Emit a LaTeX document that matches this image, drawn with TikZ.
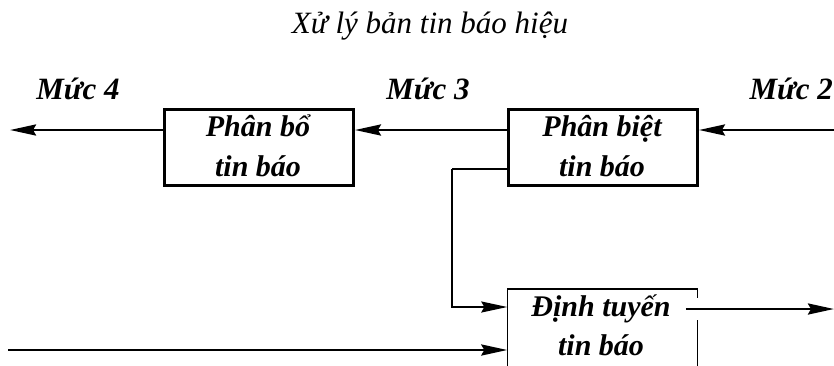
\documentclass[tikz,border=0pt]{standalone}
\usepackage{fontspec}
\setmainfont{Liberation Serif}
\usetikzlibrary{arrows.meta}

\begin{document}
\begin{tikzpicture}[x=1pt,y=-1pt,
  lbl/.style={font=\fontsize{31}{36}\selectfont\bfseries\itshape, inner sep=0pt, anchor=base},
  ttl/.style={font=\fontsize{31}{36}\selectfont\itshape, inner sep=0pt, anchor=base},
  blk/.style={draw, line width=2.8pt, minimum width=189pt, minimum height=76pt, inner sep=0pt},
  blktxt/.style={font=\fontsize{30}{36}\selectfont\bfseries\itshape, inner sep=0pt, anchor=base},
  tip/.style={-{Stealth[length=26pt,width=11pt,inset=3pt]}},
  flow/.style={line width=2.8pt, tip},
  branch/.style={line width=1.8pt, tip},
  frame/.style={line width=1.5pt},
]
\useasboundingbox (0,0) rectangle (834,365);

% heading
\node[ttl] (title) at (430,33) {Xử lý bản tin báo hiệu};

% level labels
\node[lbl] (m4) at (78,99) {Mức 4};
\node[lbl] (m3) at (428,99) {Mức 3};
\node[lbl, anchor=base east] (m2) at (833,99) {Mức 2};

% processing blocks
\node[blk] (b1) at (259,147.5) {};
\node[blktxt] (b1a) at (258,136) {Phân bổ};
\node[blktxt] (b1b) at (258,176) {tin báo};

\node[blk] (b2) at (603,147.5) {};
\node[blktxt] (b2a) at (602,136) {Phân biệt};
\node[blktxt] (b2b) at (602,176) {tin báo};

% routing block (open at the bottom edge)
\node[minimum width=190pt, minimum height=82pt, inner sep=0pt] (b3) at (602.5,330) {};
\node[blktxt, inner xsep=15pt] (dt) at (601,316) {Định tuyến};
\node[blktxt] (tb) at (601,355) {tin báo};
\draw[frame] (b3.south west) -- (b3.north west) -- (b3.north east) -- ++(0,9);
\draw[frame] (b3.south east) -- ++(0,-51);

% free ends
\coordinate (o4) at (10,130);
\coordinate (in2) at (834,130);
\coordinate (in0) at (8,350);
\coordinate (o3) at (834,309);
\coordinate (k1) at (452,169);
\coordinate (k2) at (452,307);

% connectors
\draw[flow] (in2) -- (b2.east |- in2);
\draw[flow] (b2.west |- in2) -- (b1.east |- in2);
\draw[flow] (b1.west |- o4) -- (o4);
\draw[line width=2.6pt] (b2.west |- k1) -- (k1);
\draw[branch] (k1) -- (k2) -- (b3.west |- k2);
\draw[flow] (in0) -- (b3.west |- in0);
\draw[flow] (dt.east |- o3) -- (o3);
\end{tikzpicture}
\end{document}
